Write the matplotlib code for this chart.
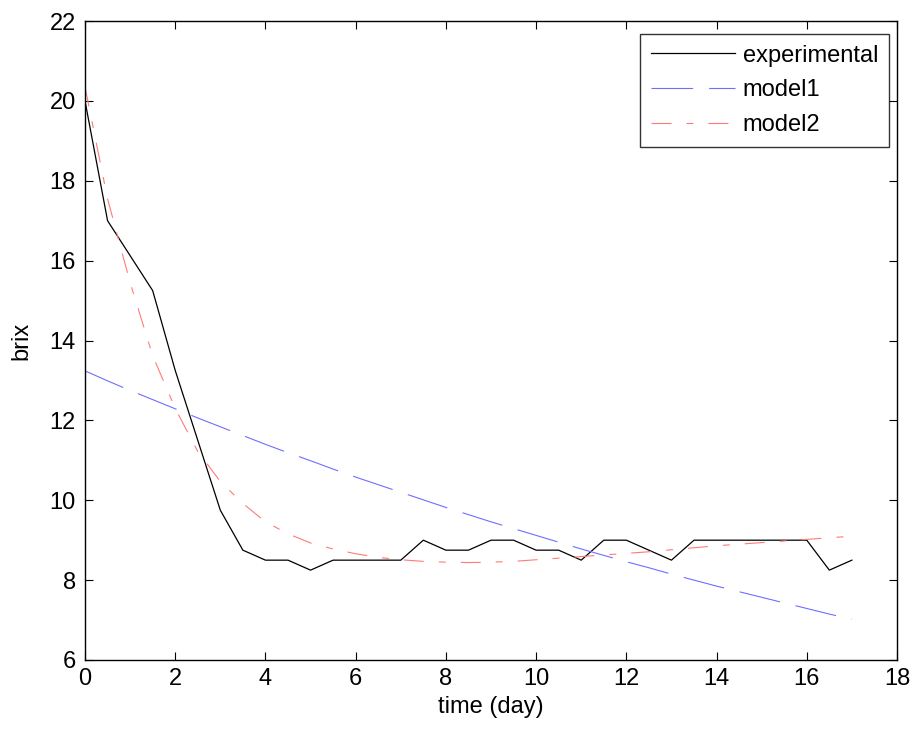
import matplotlib
matplotlib.use("Agg")
import matplotlib.pyplot as plt

plt.rcParams['font.family'] = ['Liberation Sans', 'DejaVu Sans']
plt.rcParams['lines.scale_dashes'] = False

time_day = [0, 0.5, 1, 1.5, 2, 2.5, 3, 3.5, 4, 4.5, 5, 5.5, 6, 6.5, 7, 7.5, 8, 8.5,
            9, 9.5, 10, 10.5, 11, 11.5, 12, 12.5, 13, 13.5, 14, 14.5, 15, 15.5, 16, 16.5, 17]

experimental = [20.0, 17.0, 16.125, 15.25, 13.25, 11.5, 9.75, 8.75, 8.5, 8.5, 8.25, 8.5,
                8.5, 8.5, 8.5, 9.0, 8.75, 8.75, 9.0, 9.0, 8.75, 8.75, 8.5, 9.0, 9.0,
                8.75, 8.5, 9.0, 9.0, 9.0, 9.0, 9.0, 9.0, 8.25, 8.5]

model1 = [13.24, 12.99, 12.75, 12.52, 12.29, 12.06, 11.84, 11.62, 11.40, 11.19, 10.99,
          10.78, 10.58, 10.39, 10.20, 10.01, 9.82, 9.64, 9.46, 9.29, 9.12, 8.95, 8.78,
          8.62, 8.46, 8.31, 8.15, 8.00, 7.85, 7.71, 7.57, 7.43, 7.29, 7.15, 7.02]

model2 = [20.35, 17.55, 15.45, 13.62, 12.30, 11.22, 10.47, 9.92, 9.46, 9.16, 8.93, 8.78,
          8.66, 8.57, 8.51, 8.47, 8.45, 8.44, 8.45, 8.47, 8.51, 8.55, 8.59, 8.63, 8.67,
          8.71, 8.76, 8.81, 8.86, 8.90, 8.94, 8.98, 9.02, 9.06, 9.10]

labels = ['experimental', 'model1', 'model2']
x_ticks = [0, 2, 4, 6, 8, 10, 12, 14, 16, 18]
y_ticks = [6, 8, 10, 12, 14, 16, 18, 20, 22]

FS = 17
W, H = 915, 731
fig = plt.figure(figsize=(W / 100, H / 100), dpi=100)
ax = fig.add_axes([85 / W, 1 - 660 / H, (897 - 85) / W, (660 - 21) / H])

ax.plot(time_day, experimental, color='black', linewidth=0.9, label=labels[0])
ax.plot(time_day, model1, color='#6f6fff', linewidth=0.8, dashes=(30, 11.5), label=labels[1])
ax.plot(time_day, model2, color='#ff7a7a', linewidth=0.8, dashes=(14.4, 10.8, 5, 10.8), label=labels[2])

ax.set_xlim(0, 18)
ax.set_ylim(6, 22)
ax.set_xticks(x_ticks)
ax.set_yticks(y_ticks)
ax.tick_params(direction='in', length=5.8, width=0.8, top=True, right=True,
               labelsize=FS)
ax.tick_params(axis='x', pad=6)
ax.tick_params(axis='y', pad=6.5)
for s in ax.spines.values():
    s.set_linewidth(1.0)

ax.set_xlabel('time (day)', fontsize=FS, labelpad=4)
ax.set_ylabel('brix', fontsize=FS, labelpad=12)

leg = ax.legend(loc='upper right', bbox_to_anchor=(889 / W, 1 - 34 / H),
                bbox_transform=fig.transFigure, borderaxespad=0, fontsize=FS,
                handlelength=3.55, handletextpad=0.34, labelspacing=0.54,
                borderpad=0.45, fancybox=False, frameon=True)
leg.get_frame().set_edgecolor('black')
leg.get_frame().set_linewidth(1.0)

fig.savefig('out.png', dpi=100)
